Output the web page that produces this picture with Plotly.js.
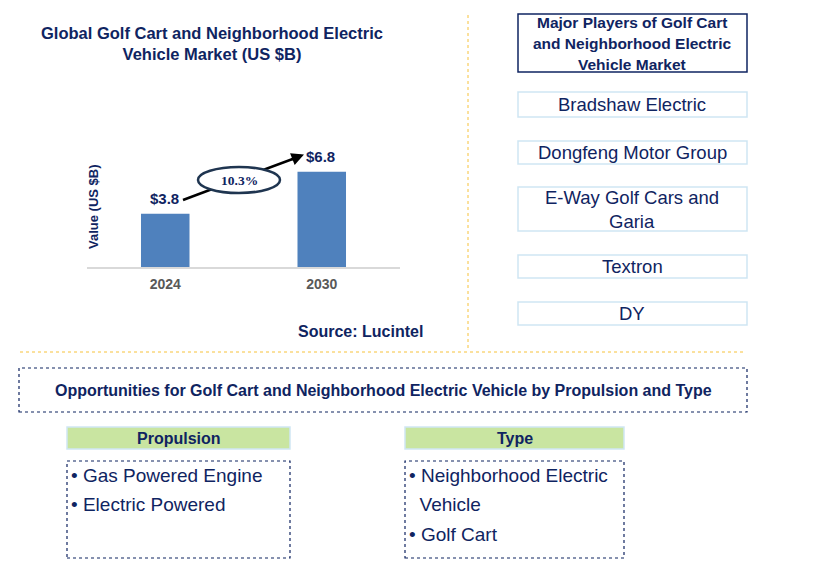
<!DOCTYPE html>
<html>
<head>
<meta charset="utf-8">
<script src="https://cdn.plot.ly/plotly-3.0.1.min.js"></script>
<style>html,body{margin:0;padding:0;background:#fff;}#chart{width:818px;height:579px;}</style>
</head>
<body>
<div id="chart"></div>
<script>
// ---- data ----
var years = ["2024", "2030"];
var marketValues = [3.8, 6.8];
var valueLabels = ["$3.8", "$6.8"];
var cagrLabel = "10.3%";
var chartTitle = "Global Golf Cart and Neighborhood Electric<br>Vehicle Market (US $B)";
var yTitle = "Value (US $B)";
var sourceText = "Source: Lucintel";
var playersTitle = ["Major Players of Golf Cart", "and Neighborhood Electric", "Vehicle Market"];
var players = [["Bradshaw Electric"], ["Dongfeng Motor Group"], ["E-Way Golf Cars and", "Garia"], ["Textron"], ["DY"]];
var opportunitiesTitle = "Opportunities for Golf Cart and Neighborhood Electric Vehicle by Propulsion and Type";
var segmentHeaders = ["Propulsion", "Type"];
var propulsionItems = ["• Gas Powered Engine", "• Electric Powered"];
var typeItems = ["• Neighborhood Electric", "  Vehicle", "• Golf Cart"];

// ---- layout geometry (pixels) ----
var W = 818, H = 579;
var L = 87, R = 400, T = 155, B = 267;
var PW = R - L, PH = B - T;
function px(x) { return (x - L) / PW; }
function py(y) { return (B - y) / PH; }
var NAVY = "#0f2461";
var FONT = "Liberation Sans, Arial, sans-serif";

var shapes = [];
var ann = [];

function rect(x0, y0, x1, y1, line, fill) {
  shapes.push({type: "rect", xref: "paper", yref: "paper", x0: px(x0), x1: px(x1), y0: py(y1), y1: py(y0),
    line: line, fillcolor: fill || "rgba(0,0,0,0)", layer: "above"});
}
function text(x, y, t, size, color, bold, xanchor, fam) {
  ann.push({xref: "paper", yref: "paper", x: px(x), y: py(y), text: bold ? "<b>" + t + "</b>" : t,
    showarrow: false, xanchor: xanchor || "center", yanchor: "middle",
    font: {family: fam || FONT, size: size, color: color || NAVY}});
}

// title
ann.push({xref: "paper", yref: "paper", x: px(212), y: py(43), text: "<b>" + chartTitle + "</b>", showarrow: false,
  xanchor: "center", yanchor: "middle", align: "center", font: {family: FONT, size: 16.5, color: NAVY}});
// y title
ann.push({xref: "paper", yref: "paper", x: px(93), y: py(207), text: "<b>" + yTitle + "</b>", showarrow: false,
  textangle: -90, xanchor: "center", yanchor: "middle", font: {family: FONT, size: 13, color: NAVY}});
// value labels (category index positions)
for (var i = 0; i < years.length; i++) {
  ann.push({xref: "x", yref: "y", x: i, y: marketValues[i], text: "<b>" + valueLabels[i] + "</b>",
    showarrow: false, yanchor: "bottom", yshift: 5, xshift: -1, font: {family: FONT, size: 15, color: NAVY}});
}
// arrow line + ellipse + arrowhead
shapes.push({type: "line", xref: "paper", yref: "paper", x0: px(183), y0: py(200), x1: px(298), y1: py(157),
  line: {color: "#000", width: 2.5}, layer: "above"});
shapes.push({type: "circle", xref: "paper", yref: "paper", x0: px(198), x1: px(280), y0: py(193), y1: py(167),
  line: {color: "#1f3550", width: 2.5}, fillcolor: "#ffffff", layer: "above"});
ann.push({xref: "paper", yref: "paper", x: px(304), y: py(154.5), ax: -14, ay: 5.5, axref: "pixel", ayref: "pixel",
  showarrow: true, arrowhead: 2, arrowsize: 1, arrowwidth: 2.5, arrowcolor: "#000", text: ""});
text(239, 180, "<b>" + cagrLabel + "</b>", 13.5, NAVY, false, "center", "Liberation Serif, Times New Roman, serif");
// source
text(360, 331, sourceText, 16, NAVY, true);

// separators
shapes.push({type: "line", xref: "paper", yref: "paper", x0: px(468), x1: px(468), y0: py(15), y1: py(350),
  line: {color: "#f7c23a", width: 1, dash: "dot"}, layer: "above"});
shapes.push({type: "line", xref: "paper", yref: "paper", x0: px(20), x1: px(746), y0: py(352), y1: py(352),
  line: {color: "#f7c23a", width: 1, dash: "dot"}, layer: "above"});

// players
rect(518, 14, 747, 72, {color: NAVY, width: 1.5});
var ptY = [22, 43, 64];
for (var k = 0; k < playersTitle.length; k++) text(632, ptY[k], playersTitle[k], 15.5, NAVY, true);
var boxes = [[92, 117], [141, 164], [187, 231], [255, 278], [302, 325]];
for (var p = 0; p < players.length; p++) {
  rect(518, boxes[p][0], 747, boxes[p][1], {color: "#cfe6f3", width: 1.5});
  var lines = players[p];
  var mid = (boxes[p][0] + boxes[p][1]) / 2;
  for (var j = 0; j < lines.length; j++) {
    text(632, mid + (j - (lines.length - 1) / 2) * 24, lines[j], 18.5, NAVY, false);
  }
}

// opportunities
rect(19, 368, 747, 412, {color: NAVY, width: 1.2, dash: "dot"});
text(383, 390, opportunitiesTitle, 16, NAVY, true);
var hx = [[67, 290], [405, 624]];
for (var h = 0; h < 2; h++) {
  rect(hx[h][0], 427, hx[h][1], 449, {color: "#cfe6f3", width: 1.5}, "#c9e5a1");
  text((hx[h][0] + hx[h][1]) / 2, 438, segmentHeaders[h], 16, NAVY, true);
  rect(hx[h][0], 461, hx[h][1], 558, {color: NAVY, width: 1.2, dash: "dot"});
}
var itemY = [475, 504, 534];
for (var a = 0; a < propulsionItems.length; a++) text(69, itemY[a], propulsionItems[a], 19, NAVY, false, "left");
for (var b = 0; b < typeItems.length; b++) text(407, itemY[b], typeItems[b].replace(/^  /, "&nbsp;&nbsp;"), 19, NAVY, false, "left");

var data = [{
  type: "bar", x: years, y: marketValues, width: 0.31,
  marker: {color: "#4f81bd"}, hoverinfo: "none"
}];

var layout = {
  width: W, height: H,
  margin: {l: L, r: W - R, t: T, b: H - B, pad: 0},
  paper_bgcolor: "#ffffff", plot_bgcolor: "#ffffff",
  showlegend: false,
  xaxis: {type: "category", range: [-0.5, 1.5], showgrid: false, zeroline: false,
    showline: true, linecolor: "#d9d9d9", linewidth: 1.5, ticks: "", ticklabelstandoff: 4,
    tickfont: {family: FONT, size: 14, color: "#595959", weight: "bold"}, fixedrange: true},
  yaxis: {range: [0, 8], visible: false, fixedrange: true},
  shapes: shapes,
  annotations: ann
};
Plotly.newPlot("chart", data, layout, {displayModeBar: false, staticPlot: true});
</script>
</body>
</html>
